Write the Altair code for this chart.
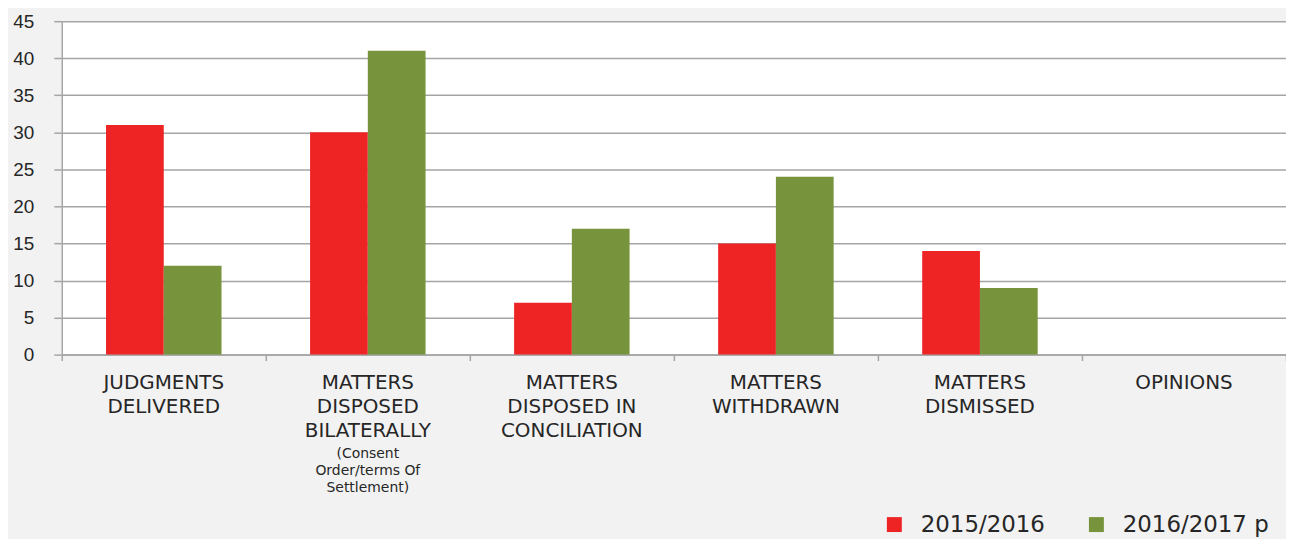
import altair as alt
import pandas as pd

categories = ["JUDGMENTS DELIVERED", "MATTERS DISPOSED BILATERALLY",
              "MATTERS DISPOSED IN CONCILIATION", "MATTERS WITHDRAWN",
              "MATTERS DISMISSED", "OPINIONS"]
main_labels = ["JUDGMENTS\nDELIVERED", "MATTERS\nDISPOSED\nBILATERALLY",
               "MATTERS\nDISPOSED IN\nCONCILIATION", "MATTERS\nWITHDRAWN",
               "MATTERS\nDISMISSED", "OPINIONS"]
sub_labels = ["", "(Consent\nOrder/terms Of\nSettlement)", "", "", "", ""]
series = ["2015/2016", "2016/2017 p"]
values_2015 = [31, 30, 7, 15, 14, None]
values_2016 = [12, 41, 17, 24, 9, None]
colors = ["#ee2324", "#77933c"]

rows = []
for c, a, b in zip(categories, values_2015, values_2016):
    if a is not None:
        rows.append({"category": c, "series": series[0], "value": a})
    if b is not None:
        rows.append({"category": c, "series": series[1], "value": b})
df = pd.DataFrame(rows)
lab = pd.DataFrame({"category": categories,
                    "main": main_labels, "sub": sub_labels})

xscale = alt.Scale(domain=categories, paddingInner=0, paddingOuter=0)

bars = alt.Chart(df).mark_bar().encode(
    x=alt.X("category:N", scale=xscale, sort=categories,
            axis=alt.Axis(title=None, labels=False, tickBand="extent",
                          ticks=True, tickSize=6, tickColor="#a5a5a5",
                          tickWidth=1.5, domainColor="#a5a5a5",
                          domainWidth=1.5, grid=False)),
    xOffset=alt.XOffset("series:N", sort=series,
                        scale=alt.Scale(paddingInner=0, paddingOuter=0.767)),
    y=alt.Y("value:Q", scale=alt.Scale(domain=[0, 45], nice=False),
            axis=alt.Axis(title=None, values=list(range(0, 50, 5)),
                          labelFont="Liberation Sans", labelFontSize=19,
                          labelColor="#262626", labelPadding=20,
                          tickSize=8, tickColor="#a5a5a5", tickWidth=1.5,
                          domainColor="#a5a5a5", domainWidth=1.5,
                          gridColor="#a5a5a5", gridWidth=1.5)),
    color=alt.Color("series:N", sort=series,
                    scale=alt.Scale(domain=series, range=colors),
                    legend=alt.Legend(title=None, orient="none",
                                      direction="horizontal",
                                      legendX=825, legendY=494,
                                      symbolType="square", symbolSize=225,
                                      symbolStrokeWidth=0,
                                      labelFont="DejaVu Sans",
                                      labelFontSize=23, labelColor="#262626",
                                      labelOffset=15, columnPadding=40,
                                      labelLimit=300)),
)

main_text = alt.Chart(lab).mark_text(
    font="DejaVu Sans", fontSize=20, lineBreak="\n", lineHeight=24,
    baseline="top", align="center", color="#262626", clip=False
).encode(x=alt.X("category:N", scale=xscale, sort=categories, bandPosition=0.5),
         y=alt.value(354), text="main:N")

sub_text = alt.Chart(lab).mark_text(
    font="DejaVu Sans", fontSize=14, lineBreak="\n", lineHeight=17,
    baseline="top", align="center", color="#262626", clip=False
).encode(x=alt.X("category:N", scale=xscale, sort=categories, bandPosition=0.5),
         y=alt.value(428), text="sub:N")

chart = alt.layer(bars, main_text, sub_text).properties(
    width=1230, height=335,
    background="#f2f2f2",
    autosize=alt.AutoSizeParams(type="none"),
    padding={"left": 54, "top": 12, "right": 0, "bottom": 184},
).configure_view(fill="white", stroke=None)

chart.save("out.html", embed_options={"renderer": "svg", "actions": False})
